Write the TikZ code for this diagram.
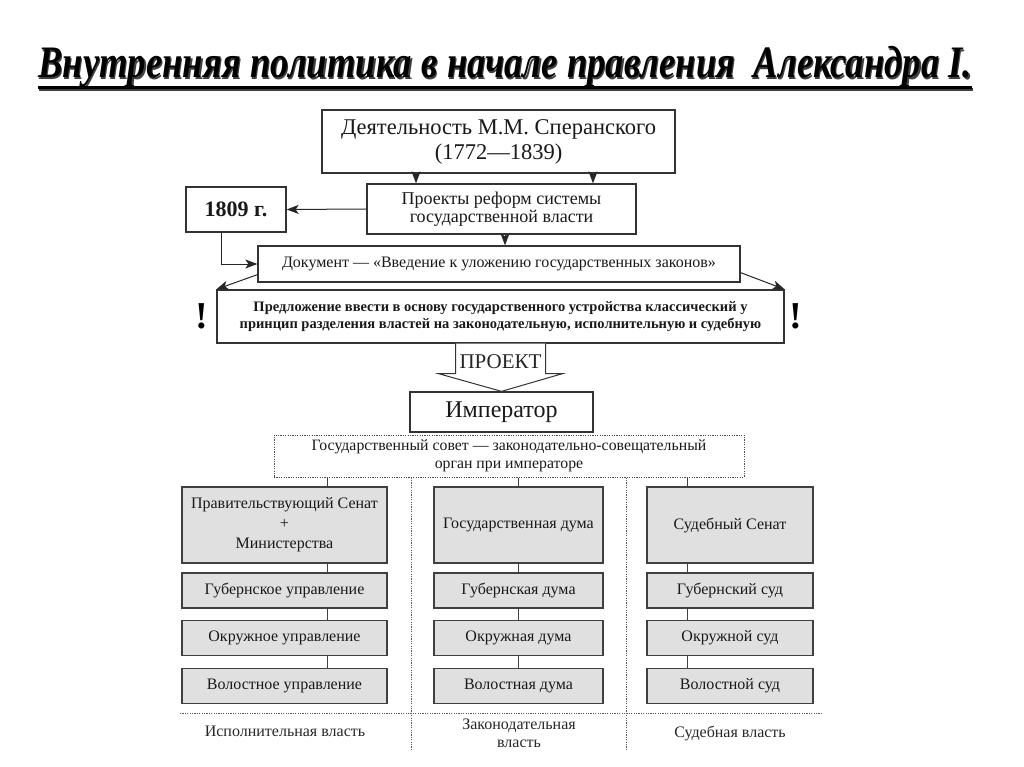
\documentclass[tikz,border=0pt]{standalone}
\usepackage{fontspec}
\setmainfont{Liberation Serif}
\usepackage{graphicx}
\usetikzlibrary{calc,arrows.meta}
\newcommand\mytitletext{\resizebox{934pt}{\height}{\fontsize{45}{50}\selectfont\bfseries\itshape Внутренняя политика в начале правления\ \ Александра I.}}
\begin{document}
\begin{tikzpicture}[x=1pt,y=-1pt,
  box/.style={draw=black!80, line width=1.3pt, fill=white, inner sep=0pt, align=center, text=black!90},
  gbox/.style={box, fill=black!12, draw=black!75},
  dotbox/.style={draw=black!70, line width=1pt, dash pattern=on 1.2pt off 1.2pt, inner sep=0pt, align=center, text=black!90},
  arr/.style={-{Stealth[length=12pt,width=9pt,inset=3pt]}, line width=1pt, draw=black!85},
  conn/.style={line width=1pt, draw=black!75},
  sep/.style={line width=1pt, draw=black!65, dash pattern=on 1.2pt off 1.2pt},
  lbl/.style={inner sep=0pt, align=center, text=black!85},
  f16/.style={font=\fontsize{16}{19}\selectfont},
  col1/.style={gbox, f16, minimum width=205},
  col2/.style={gbox, f16, minimum width=169},
  col3/.style={gbox, f16, minimum width=166},
  r1/.style={minimum height=76},
  rs/.style={minimum height=35}
]
\useasboundingbox (0,0) rectangle (1024,767);
% title
\node[anchor=base west, inner sep=0pt, text=black!75] (titleshadow) at (39.2,79.2) {\mytitletext};
\node[anchor=base west, inner sep=0pt] (title) at (38,78) {\mytitletext};
\draw[line width=3pt, black!75] (39.2,89.2) -- (973.2,89.2);
\draw[line width=3pt] (38,88) -- (972,88);

% top part
\node[box, minimum width=353, minimum height=63, font=\fontsize{22.5}{25}\selectfont] (A) at (498.5,141.5) {Деятельность М.М. Сперанского\\(1772—1839)};
\node[box, minimum width=269, minimum height=50, font=\fontsize{18}{18.5}\selectfont] (B) at (501.5,209) {Проекты реформ системы\\государственной власти};
\node[box, minimum width=100, minimum height=45, font=\fontsize{22}{24}\selectfont\bfseries] (Y) at (236,209.5) {1809 г.};
\node[box, minimum width=482, minimum height=36, font=\fontsize{16}{19}\selectfont] (C) at (499,264) {Документ — «Введение к уложению государственных законов»};
\node[box, minimum width=567, minimum height=53, font=\fontsize{14.5}{17}\selectfont\bfseries] (D) at (500.5,316.5) {Предложение ввести в основу государственного устройства классический у\\принцип разделения властей на законодательную, исполнительную и судебную};
\node[lbl, font=\fontsize{38}{38}\selectfont\bfseries, text=black] (ex1) at (202,316) {!};
\node[lbl, font=\fontsize{38}{38}\selectfont\bfseries, text=black] (ex2) at (796,316) {!};
\node[box, minimum width=183, minimum height=40, font=\fontsize{24}{26}\selectfont] (E) at (501.5,412) {Император};
\node[dotbox, minimum width=470, minimum height=42, font=\fontsize{15.8}{18.5}\selectfont] (F) at (509,456) {Государственный совет — законодательно-совещательный\\орган при императоре};

% arrows of the top part
\coordinate (a1) at (416,0);
\coordinate (a2) at (593,0);
\coordinate (b1) at (505,0);
\coordinate (y1) at (221,0);
\draw[arr] (A.south -| a1) -- (B.north -| a1);
\draw[arr] (A.south -| a2) -- (B.north -| a2);
\draw[arr] (B.west) -- (Y.east);
\draw[arr] (B.south -| b1) -- (C.north -| b1);
\draw[arr] (Y.south -| y1) |- (C.west);
\draw[arr] ($(C.south west)+(0,-8)$) -- (D.north west);
\draw[arr] ($(C.south east)+(0,-10)$) -- (D.north east);

% hollow arrow ПРОЕКТ
\draw[line width=1pt, draw=black!80, fill=white] ($(D.south)+(-45,0)$) -- ++(0,30) -- ++(-17,0) -- (E.north) -- ($(D.south)+(62,30)$) -- ++(-17,0) -- ++(0,-30);
\node[lbl, font=\fontsize{21}{21}\selectfont] (proj) at ($(D.south)+(0,18)$) {ПРОЕКТ};

% columns
\node[col1, r1, font=\fontsize{16}{20}\selectfont] (c1r1) at (284.5,525) {Правительствующий Сенат\\+\\Министерства};
\node[col1, rs] (c1r2) at (284.5,590.5) {Губернское управление};
\node[col1, rs] (c1r3) at (284.5,638) {Окружное управление};
\node[col1, rs] (c1r4) at (284.5,686) {Волостное управление};
\node[col2, r1] (c2r1) at (518.5,525) {Государственная дума};
\node[col2, rs] (c2r2) at (518.5,590.5) {Губернская дума};
\node[col2, rs] (c2r3) at (518.5,638) {Окружная дума};
\node[col2, rs] (c2r4) at (518.5,686) {Волостная дума};
\node[col3, r1] (c3r1) at (730,525) {Судебный Сенат};
\node[col3, rs] (c3r2) at (730,590.5) {Губернский суд};
\node[col3, rs] (c3r3) at (730,638) {Окружной суд};
\node[col3, rs] (c3r4) at (730,686) {Волостной суд};

\coordinate (k1) at (327,0);
\coordinate (k2) at (518,0);
\coordinate (k3) at (687,0);
\draw[conn] (F.south -| k1) -- (c1r1.north -| k1);
\draw[conn] (c1r1.south -| k1) -- (c1r2.north -| k1);
\draw[conn] (c1r2.south -| k1) -- (c1r3.north -| k1);
\draw[conn] (c1r3.south -| k1) -- (c1r4.north -| k1);
\draw[conn] (F.south -| k2) -- (c2r1.north -| k2);
\draw[conn] (c2r1.south -| k2) -- (c2r2.north -| k2);
\draw[conn] (c2r2.south -| k2) -- (c2r3.north -| k2);
\draw[conn] (c2r3.south -| k2) -- (c2r4.north -| k2);
\draw[conn] (F.south -| k3) -- (c3r1.north -| k3);
\draw[conn] (c3r1.south -| k3) -- (c3r2.north -| k3);
\draw[conn] (c3r2.south -| k3) -- (c3r3.north -| k3);
\draw[conn] (c3r3.south -| k3) -- (c3r4.north -| k3);

% separators
\coordinate (v1) at (411,750);
\coordinate (v2) at (626,750);
\draw[sep] (F.south -| v1) -- (v1);
\draw[sep] (F.south -| v2) -- (v2);
\draw[sep] (180,713) -- (822,713);

% bottom labels
\node[lbl, f16] (L1) at (285,731) {Исполнительная власть};
\node[lbl, f16, font=\fontsize{16}{18}\selectfont] (L2) at (519,733) {Законодательная\\власть};
\node[lbl, f16] (L3) at (730,733) {Судебная власть};
\end{tikzpicture}
\end{document}
